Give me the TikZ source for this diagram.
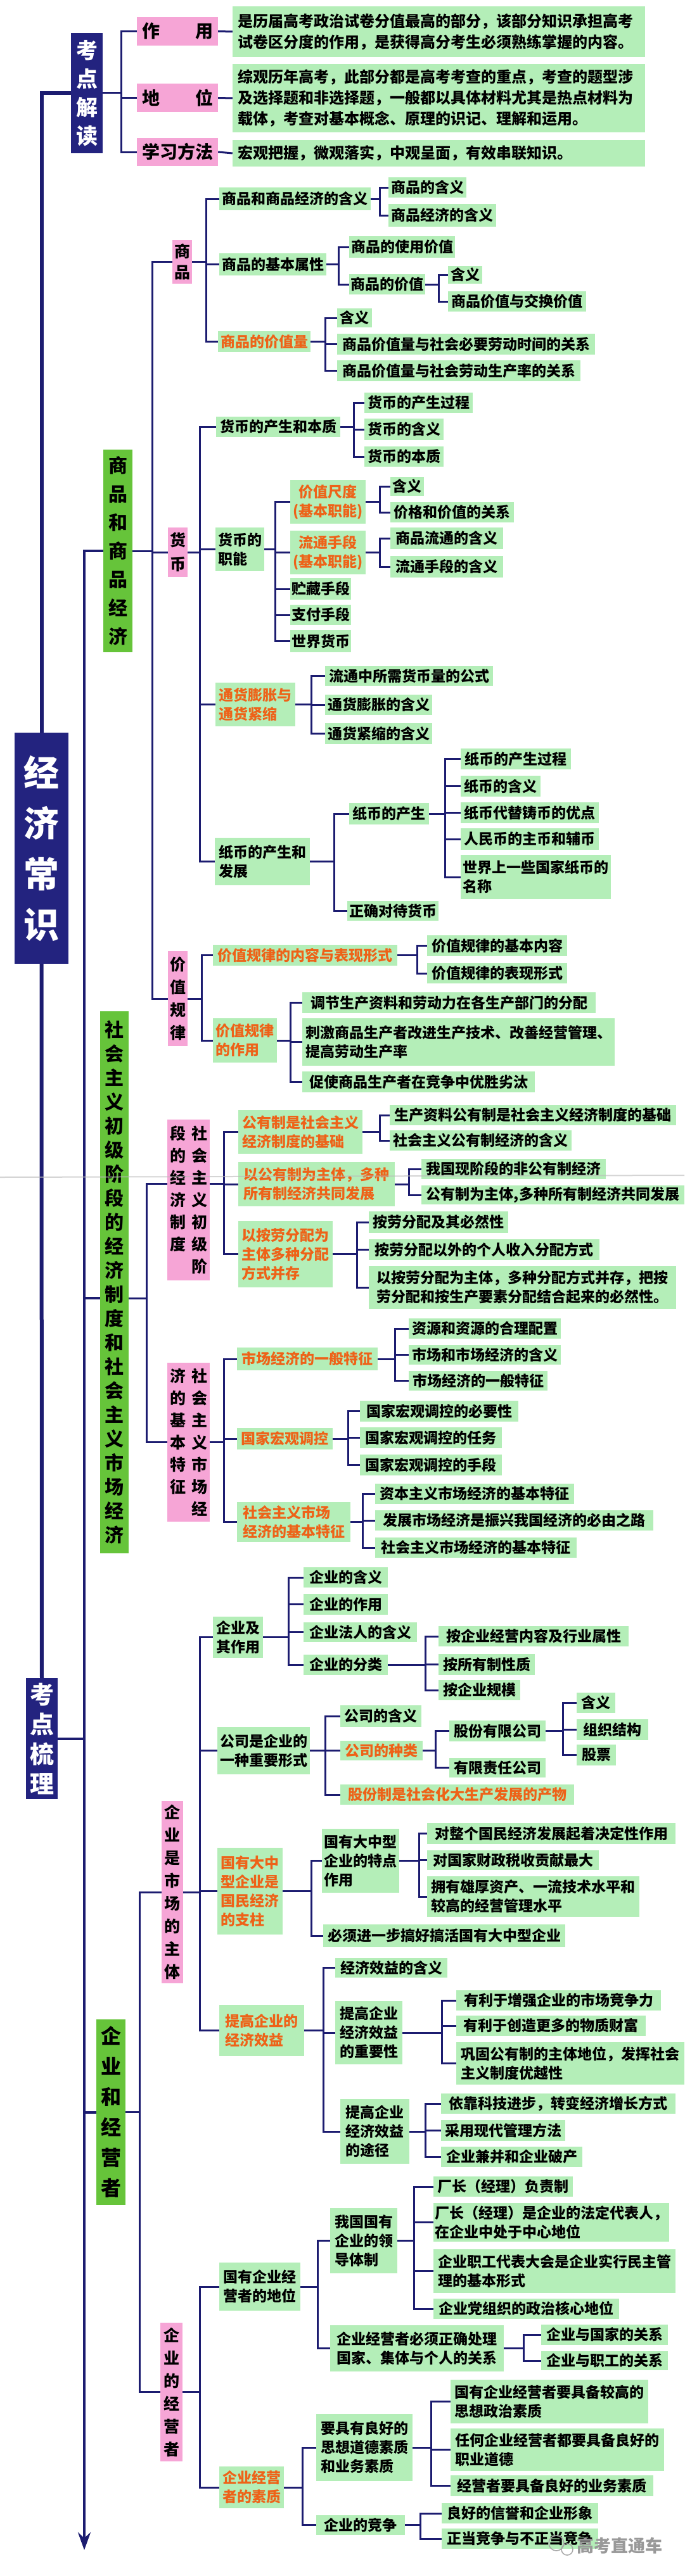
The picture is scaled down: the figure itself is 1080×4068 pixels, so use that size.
\documentclass[tikz,border=0pt]{standalone}
\usepackage{fontspec}
\setmainfont{Noto Sans CJK SC}
\usetikzlibrary{arrows.meta}
\definecolor{navyline}{HTML}{1C1C70}
\definecolor{navyfill}{HTML}{23237F}
\definecolor{mint}{HTML}{B4EEB8}
\definecolor{leaf}{HTML}{66C43A}
\definecolor{rose}{HTML}{F6A5D6}
\definecolor{flame}{HTML}{EE6218}

\newcommand{\fs}[2]{\fontsize{#1}{#2}\selectfont\bfseries}
\newcommand{\vcol}[1]{\parbox[t]{1em}{\centering #1}}
% box from its corners (x1,y1)-(x2,y2), in pixels of the page
\newcommand{\bx}[7][gbox]{%
  \node[#1, minimum width={#5-#3}, minimum height={#6-#4}] (#2) at ({(#3+#5)/2},{(#4+#6)/2}) {#7};}
% bracket: parent anchor, x of the spine, child anchors
\newcommand{\fork}[3]{%
  \coordinate (forkx) at (#2,0);
  \foreach \kid in {#3}{\draw[link] (#1) -- (#1 -| forkx) |- (\kid);}}

\tikzset{
  box/.style={inner xsep=2pt, inner ysep=1pt, align=left, font=\fs{23}{30}},
  gbox/.style={box, fill=mint},
  obox/.style={gbox, text=flame},
  topbox/.style={gbox, inner xsep=8pt, text width=635pt, font=\fs{24}{33}},
  pinkbig/.style={box, fill=rose, align=center, font=\fs{28}{34}},
  pinkbox/.style={box, fill=rose, align=center, font=\fs{25}{36}},
  gbig/.style={box, fill=leaf, align=center, font=\fs{30}{45}},
  navybox/.style={box, fill=navyfill, text=white, align=center, font=\fs{34}{45}},
  link/.style={draw=navyline, line width=3pt},
  trunk/.style={draw=navyline, line width=6pt},
  spine/.style={draw=navyline, line width=4pt}
}

\begin{document}
\begin{tikzpicture}[x=1pt, y=-1pt]
\useasboundingbox (0,0) rectangle (1080,4068);
\fill[white] (0,0) rectangle (1080,4068);

% ---- 考点解读
\bx[navybox]{kdjd}{112}{52}{162}{242}{考\\点\\解\\读}
\bx[pinkbig]{zy}{216}{27}{344}{72}{作　　用}
\bx[pinkbig]{dw}{216}{132}{344}{177}{地　　位}
\bx[pinkbig]{xxff}{216}{218}{344}{262}{学习方法}
\bx[topbox]{zyt}{367}{10}{1018}{90}{是历届高考政治试卷分值最高的部分，该部分知识承担高考\\试卷区分度的作用，是获得高分考生必须熟练掌握的内容。}
\bx[topbox]{dwt}{367}{101}{1018}{209}{综观历年高考，此部分都是高考考查的重点，考查的题型涉\\及选择题和非选择题，一般都以具体材料尤其是热点材料为\\载体，考查对基本概念、原理的识记、理解和运用。}
\bx[topbox]{xxfft}{367}{221}{1018}{263}{宏观把握，微观落实，中观呈面，有效串联知识。}
\fork{kdjd.east}{191}{zy.west,dw.west,xxff.west}
\draw[link] (zy.east) -- (zyt.west);
\draw[link] (dw.east) -- (dwt.west);
\draw[link] (xxff.east) -- (xxfft.west);

% ---- 商品
\bx[pinkbox, font=\fs{25}{33}]{sp}{272}{379}{303}{448}{商\\品}
\bx{sphy}{346}{296}{585}{332}{商品和商品经济的含义}
\bx{sphy1}{613}{280}{736}{312}{商品的含义}
\bx{sphy2}{613}{322}{783}{358}{商品经济的含义}
\bx{spsx}{346}{400}{515}{435}{商品的基本属性}
\bx{spsy}{551}{373}{718}{407}{商品的使用价值}
\bx{spjz}{551}{433}{671}{465}{商品的价值}
\bx{spjz1}{707}{420}{761}{448}{含义}
\bx{spjz2}{707}{460}{925}{492}{商品价值与交换价值}
\bx[obox]{spjzl}{344}{523}{490}{556}{商品的价值量}
\bx{spjzl1}{532}{487}{587}{517}{含义}
\bx{spjzl2}{532}{527}{939}{560}{商品价值量与社会必要劳动时间的关系}
\bx{spjzl3}{532}{569}{916}{602}{商品价值量与社会劳动生产率的关系}
\fork{sp.east}{325}{sphy.west,spsx.west,spjzl.west}
\fork{sphy.east}{599}{sphy1.west,sphy2.west}
\fork{spsx.east}{534}{spsy.west,spjz.west}
\fork{spjz.east}{692}{spjz1.west,spjz2.west}
\fork{spjzl.east}{513}{spjzl1.west,spjzl2.west,spjzl3.west}

% ---- 货币
\bx[pinkbox, font=\fs{25}{38}]{hb}{265}{833}{296}{911}{货\\币}
\bx{hbcs}{341}{658}{537}{690}{货币的产生和本质}
\bx{hbcs1}{575}{620}{746}{652}{货币的产生过程}
\bx{hbcs2}{575}{661}{700}{695}{货币的含义}
\bx{hbcs3}{575}{705}{700}{737}{货币的本质}
\bx{hbzn}{340}{833}{417}{902}{货币的\\职能}
\bx[obox, align=center]{jzcd}{458}{758}{577}{827}{价值尺度\\(基本职能)}
\bx{jzcd1}{616}{753}{669}{783}{含义}
\bx{jzcd2}{616}{793}{811}{825}{价格和价值的关系}
\bx[obox, align=center]{ltsd}{458}{838}{577}{907}{流通手段\\(基本职能)}
\bx{ltsd1}{616}{833}{794}{867}{商品流通的含义}
\bx{ltsd2}{616}{878}{794}{912}{流通手段的含义}
\bx{zcsd}{458}{913}{554}{947}{贮藏手段}
\bx{zfsd}{458}{955}{554}{987}{支付手段}
\bx{sjhb}{458}{995}{554}{1030}{世界货币}
\bx[obox]{thpz}{340}{1078}{466}{1147}{通货膨胀与\\通货紧缩}
\bx{thpz1}{513}{1052}{778}{1083}{流通中所需货币量的公式}
\bx{thpz2}{513}{1097}{682}{1129}{通货膨胀的含义}
\bx{thpz3}{513}{1142}{682}{1175}{通货紧缩的含义}
\bx{zbfz}{339}{1323}{489}{1398}{纸币的产生和\\发展}
\bx{zbcs}{551}{1268}{677}{1302}{纸币的产生}
\bx{zbcs1}{727}{1182}{901}{1215}{纸币的产生过程}
\bx{zbcs2}{727}{1225}{853}{1258}{纸币的含义}
\bx{zbcs3}{727}{1267}{945}{1300}{纸币代替铸币的优点}
\bx{zbcs4}{727}{1308}{945}{1342}{人民币的主币和辅币}
\bx{zbcs5}{727}{1350}{964}{1420}{世界上一些国家纸币的\\名称}
\bx{zqdd}{548}{1423}{692}{1454}{正确对待货币}
\fork{hb.east}{315}{hbcs.west,hbzn.west,thpz.west,zbfz.west}
\fork{hbcs.east}{558}{hbcs1.west,hbcs2.west,hbcs3.west}
\fork{hbzn.east}{434}{jzcd.west,ltsd.west,zcsd.west,zfsd.west,sjhb.west}
\fork{jzcd.east}{599}{jzcd1.west,jzcd2.west}
\fork{ltsd.east}{599}{ltsd1.west,ltsd2.west}
\fork{thpz.east}{491}{thpz1.west,thpz2.west,thpz3.west}
\fork{zbfz.east}{527}{zbcs.west,zqdd.west}
\fork{zbcs.east}{702}{zbcs1.west,zbcs2.west,zbcs3.west,zbcs4.west,zbcs5.west}

% ---- 价值规律
\bx[pinkbox]{jzgl}{265}{1502}{296}{1652}{价\\值\\规\\律}
\bx[obox]{jzgl1}{336}{1492}{627}{1525}{价值规律的内容与表现形式}
\bx{jzgl11}{674}{1477}{895}{1510}{价值规律的基本内容}
\bx{jzgl12}{674}{1521}{895}{1553}{价值规律的表现形式}
\bx[obox]{jzgl2}{336}{1608}{437}{1678}{价值规律\\的作用}
\bx{jzgl21}{477}{1567}{940}{1600}{调节生产资料和劳动力在各生产部门的分配}
\bx{jzgl22}{477}{1608}{970}{1683}{刺激商品生产者改进生产技术、改善经营管理、\\提高劳动生产率}
\bx{jzgl23}{477}{1692}{844}{1725}{促使商品生产者在竞争中优胜劣汰}
\fork{jzgl.east}{318}{jzgl1.west,jzgl2.west}
\fork{jzgl1.east}{658}{jzgl11.west,jzgl12.west}
\fork{jzgl2.east}{458}{jzgl21.west,jzgl22.west,jzgl23.west}

\bx[gbig]{spjj}{163}{710}{209}{1030}{商\\品\\和\\商\\品\\经\\济}
\fork{spjj.east}{240}{sp.west,hb.west,jzgl.west}

% ---- 社会主义初级阶段的经济制度
\bx[pinkbox, font=\fs{25}{35}]{jjzd}{264}{1768}{331}{2022}{\vcol{段\\的\\经\\济\\制\\度}\hspace{9pt}\vcol{社\\会\\主\\义\\初\\级\\阶}}
\coordinate (jjzdL) at ([yshift=26pt]jjzd.west);
\coordinate (jjzdR) at ([yshift=26pt]jjzd.east);
\bx[obox]{gyz}{376}{1753}{572}{1822}{公有制是社会主义\\经济制度的基础}
\bx{gyz1}{615}{1745}{1067}{1777}{生产资料公有制是社会主义经济制度的基础}
\bx{gyz2}{615}{1785}{902}{1817}{社会主义公有制经济的含义}
\bx[obox]{gyzt}{376}{1835}{623}{1905}{以公有制为主体，多种\\所有制经济共同发展}
\bx{gyzt1}{665}{1830}{956}{1862}{我国现阶段的非公有制经济}
\bx{gyzt2}{665}{1872}{1080}{1902}{公有制为主体,多种所有制经济共同发展}
\bx[obox]{alfp}{376}{1928}{525}{2033}{以按劳分配为\\主体多种分配\\方式并存}
\bx{alfp1}{582}{1913}{802}{1947}{按劳分配及其必然性}
\bx{alfp2}{582}{1957}{946}{1990}{按劳分配以外的个人收入分配方式}
\bx{alfp3}{582}{1999}{1067}{2067}{以按劳分配为主体，多种分配方式并存，把按\\劳分配和按生产要素分配结合起来的必然性。}
\fork{jjzdR}{353}{gyz.west,gyzt.west,alfp.west}
\fork{gyz.east}{599}{gyz1.west,gyz2.west}
\fork{gyzt.east}{645}{gyzt1.west,gyzt2.west}
\fork{alfp.east}{563}{alfp1.west,alfp2.west,alfp3.west}

% ---- 社会主义市场经济的基本特征
\bx[pinkbox, font=\fs{25}{35}]{scjj}{264}{2152}{331}{2403}{\vcol{济\\的\\基\\本\\特\\征}\hspace{9pt}\vcol{社\\会\\主\\义\\市\\场\\经}}
\bx[obox]{ybtz}{374}{2128}{596}{2164}{市场经济的一般特征}
\bx{ybtz1}{645}{2082}{885}{2114}{资源和资源的合理配置}
\bx{ybtz2}{645}{2124}{885}{2155}{市场和市场经济的含义}
\bx{ybtz3}{645}{2165}{864}{2196}{市场经济的一般特征}
\bx[obox]{hgtk}{374}{2255}{525}{2289}{国家宏观调控}
\bx{hgtk1}{568}{2212}{818}{2245}{国家宏观调控的必要性}
\bx{hgtk2}{568}{2254}{792}{2287}{国家宏观调控的任务}
\bx{hgtk3}{568}{2297}{792}{2330}{国家宏观调控的手段}
\bx[obox]{jbtz}{374}{2372}{553}{2435}{社会主义市场\\经济的基本特征}
\bx{jbtz1}{592}{2343}{906}{2375}{资本主义市场经济的基本特征}
\bx{jbtz2}{592}{2385}{1031}{2417}{发展市场经济是振兴我国经济的必由之路}
\bx{jbtz3}{592}{2428}{910}{2460}{社会主义市场经济的基本特征}
\fork{scjj.east}{353}{ybtz.west,hgtk.west,jbtz.west}
\fork{ybtz.east}{623}{ybtz1.west,ybtz2.west,ybtz3.west}
\fork{hgtk.east}{549}{hgtk1.west,hgtk2.west,hgtk3.west}
\fork{jbtz.east}{572}{jbtz1.west,jbtz2.west,jbtz3.west}

\bx[gbig, font=\fs{30}{38}]{shzy}{158}{1597}{203}{2453}{社\\会\\主\\义\\初\\级\\阶\\段\\的\\经\\济\\制\\度\\和\\社\\会\\主\\义\\市\\场\\经\\济}
\coordinate (shzyL) at ([yshift=-25pt]shzy.west);
\coordinate (shzyR) at ([yshift=-25pt]shzy.east);
\fork{shzyR}{231}{jjzdL,scjj.west}

% ---- 企业是市场的主体
\bx[pinkbox]{qysc}{255}{2844}{289}{3132}{企\\业\\是\\市\\场\\的\\主\\体}
\bx{qyzy}{336}{2553}{415}{2618}{企业及\\其作用}
\bx{qyzy1}{479}{2475}{612}{2507}{企业的含义}
\bx{qyzy2}{479}{2517}{612}{2550}{企业的作用}
\bx{qyzy3}{479}{2562}{658}{2593}{企业法人的含义}
\bx{qyzy4}{479}{2613}{612}{2645}{企业的分类}
\bx{qyfl1}{692}{2568}{992}{2600}{按企业经营内容及行业属性}
\bx{qyfl2}{692}{2612}{844}{2645}{按所有制性质}
\bx{qyfl3}{692}{2653}{821}{2685}{按企业规模}
\bx{gsxs}{343}{2727}{489}{2802}{公司是企业的\\一种重要形式}
\bx{gshy}{537}{2693}{665}{2727}{公司的含义}
\bx[obox]{gszl}{537}{2749}{667}{2780}{公司的种类}
\bx[obox]{gfz}{537}{2818}{906}{2850}{股份制是社会化大生产发展的产物}
\bx{gfgs}{709}{2717}{861}{2750}{股份有限公司}
\bx{yxgs}{709}{2776}{861}{2807}{有限责任公司}
\bx{gfgs1}{910}{2673}{971}{2705}{含义}
\bx{gfgs2}{910}{2715}{1023}{2748}{组织结构}
\bx{gfgs3}{910}{2755}{972}{2788}{股票}
\bx[obox]{gyqy}{343}{2918}{446}{3055}{国有大中\\型企业是\\国民经济\\的支柱}
\bx{gytd}{508}{2888}{630}{2989}{国有大中型\\企业的特点\\作用}
\bx{gytd1}{674}{2879}{1066}{2912}{对整个国民经济发展起着决定性作用}
\bx{gytd2}{674}{2922}{945}{2953}{对国家财政税收贡献最大}
\bx{gytd3}{674}{2963}{1009}{3027}{拥有雄厚资产、一流技术水平和\\较高的经营管理水平}
\bx{gybx}{510}{3039}{892}{3075}{必须进一步搞好搞活国有大中型企业}
\bx[obox]{jjxy}{346}{3166}{480}{3247}{提高企业的\\经济效益}
\bx{jjxy1}{529}{3092}{706}{3123}{经济效益的含义}
\bx{jjxy2}{529}{3160}{635}{3260}{提高企业\\经济效益\\的重要性}
\bx{jjxy21}{720}{3143}{1043}{3175}{有利于增强企业的市场竞争力}
\bx{jjxy22}{720}{3183}{1019}{3215}{有利于创造更多的物质财富}
\bx{jjxy23}{720}{3225}{1080}{3292}{巩固公有制的主体地位，发挥社会\\主义制度优越性}
\bx{jjxy3}{537}{3315}{646}{3417}{提高企业\\经济效益\\的途径}
\bx{jjxy31}{696}{3306}{1066}{3338}{依靠科技进步，转变经济增长方式}
\bx{jjxy32}{696}{3348}{892}{3381}{采用现代管理方法}
\bx{jjxy33}{696}{3390}{919}{3422}{企业兼并和企业破产}
\fork{qysc.east}{315}{qyzy.west,gsxs.west,gyqy.west,jjxy.west}
\fork{qyzy.east}{455}{qyzy1.west,qyzy2.west,qyzy3.west,qyzy4.west}
\fork{qyzy4.east}{671}{qyfl1.west,qyfl2.west,qyfl3.west}
\fork{gsxs.east}{513}{gshy.west,gszl.west,gfz.west}
\fork{gszl.east}{687}{gfgs.west,yxgs.west}
\fork{gfgs.east}{888}{gfgs1.west,gfgs2.west,gfgs3.west}
\fork{gyqy.east}{491}{gytd.west,gybx.west}
\fork{gytd.east}{661}{gytd1.west,gytd2.west,gytd3.west}
\fork{jjxy.east}{510}{jjxy1.west,jjxy2.west,jjxy3.west}
\fork{jjxy2.east}{697}{jjxy21.west,jjxy22.west,jjxy23.west}
\fork{jjxy3.east}{671}{jjxy31.west,jjxy32.west,jjxy33.west}

% ---- 企业的经营者
\bx[pinkbox]{jyz}{253}{3668}{288}{3887}{企\\业\\的\\经\\营\\者}
\bx{jydw}{346}{3573}{474}{3649}{国有企业经\\营者的地位}
\bx{ldtz}{521}{3487}{627}{3590}{我国国有\\企业的领\\导体制}
\bx{ldtz1}{684}{3437}{904}{3469}{厂长（经理）负责制}
\bx{ldtz2}{684}{3479}{1056}{3540}{厂长（经理）是企业的法定代表人，\\在企业中处于中心地位}
\bx{ldtz3}{684}{3552}{1066}{3621}{企业职工代表大会是企业实行民主管\\理的基本形式}
\bx{ldtz4}{684}{3630}{977}{3662}{企业党组织的政治核心地位}
\bx{gxcl}{521}{3672}{795}{3745}{企业经营者必须正确处理\\国家、集体与个人的关系}
\bx{gxcl1}{854}{3671}{1054}{3703}{企业与国家的关系}
\bx{gxcl2}{854}{3713}{1054}{3743}{企业与职工的关系}
\bx[obox]{jysz}{346}{3895}{448}{3961}{企业经营\\者的素质}
\bx{szsz}{499}{3812}{651}{3918}{要具有良好的\\思想道德素质\\和业务素质}
\bx{szsz1}{711}{3758}{1023}{3827}{国有企业经营者要具备较高的\\思想政治素质}
\bx{szsz2}{711}{3835}{1048}{3902}{任何企业经营者都要具备良好的\\职业道德}
\bx{szsz3}{711}{3909}{1031}{3942}{经营者要具备良好的业务素质}
\bx{qyjz}{499}{3972}{639}{4003}{企业的竞争}
\bx{qyjz1}{697}{3953}{944}{3985}{良好的信誉和企业形象}
\bx{qyjz2}{697}{3993}{944}{4025}{正当竞争与不正当竞争}
\fork{jyz.east}{315}{jydw.west,jysz.west}
\fork{jydw.east}{501}{ldtz.west,gxcl.west}
\fork{ldtz.east}{653}{ldtz1.west,ldtz2.west,ldtz3.west,ldtz4.west}
\fork{gxcl.east}{826}{gxcl1.west,gxcl2.west}
\fork{jysz.east}{477}{szsz.west,qyjz.west}
\fork{szsz.east}{680}{szsz1.west,szsz2.west,szsz3.west}
\fork{qyjz.east}{663}{qyjz1.west,qyjz2.west}

\bx[gbig, font=\fs{32}{48}]{qyjyz}{152}{3189}{198}{3482}{企\\业\\和\\经\\营\\者}
\fork{qyjyz.east}{220}{qysc.west,jyz.west}

% ---- trunk
\bx[navybox, font=\fs{56}{80}]{jjcs}{23}{1157}{108}{1522}{经\\济\\常\\识}
\bx[navybox, font=\fs{38}{47}]{kdsl}{41}{2650}{91}{2841}{考\\点\\梳\\理}
\coordinate (tip) at (133,4027);
\draw[trunk] (kdjd.west) -| (jjcs.north);
\draw[trunk] (jjcs.south) -- (kdsl.north);
\draw[spine, -{Stealth[length=28pt, width=20pt]}] (spjj.west) -| (tip);
\draw[spine] (kdsl.east) -- (kdsl.east -| tip);
\draw[spine] (shzyL -| tip) -- (shzyL);
\draw[spine] (qyjyz.west -| tip) -- (qyjyz.west);

% scan mark and watermark
\draw[gray!55, line width=2pt, opacity=0.6] (0,1859) -- (1080,1856);
\draw[gray!70, line width=1.5pt] (878,4016) circle (12) (895,4026) circle (9);
\node[text=gray!80, font=\fs{27}{30}] (mark) at (978,4020) {高考直通车};
\end{tikzpicture}
\end{document}
